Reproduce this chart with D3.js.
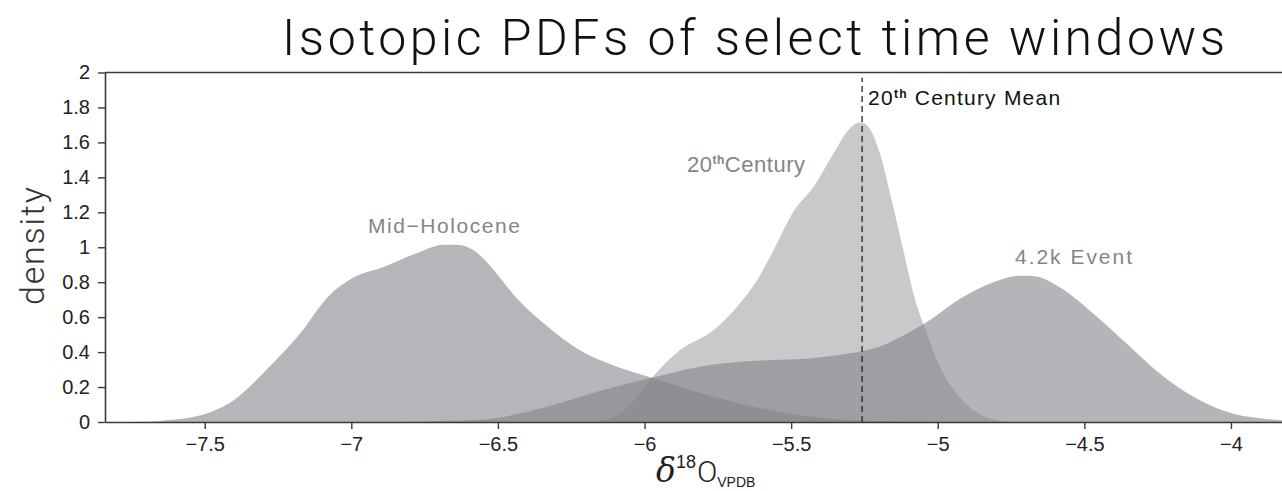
<!DOCTYPE html>
<html>
<head>
<meta charset="utf-8">
<script src="https://cdn.jsdelivr.net/npm/d3@7"></script>
<style>
	body { margin: 0; background: #fff; }
	text { font-family: "Liberation Sans", Arial, sans-serif; }
</style>
</head>
<body>
<div id="chart"></div>
<script>
// density curves: [d18O, density]
const midHolocene = [
	[-7.84, 0], [-7.69, 0.002], [-7.63, 0.01], [-7.51, 0.04], [-7.40, 0.126],
	[-7.29, 0.297], [-7.17, 0.516], [-7.08, 0.716], [-7.0, 0.82], [-6.89, 0.887],
	[-6.78, 0.964], [-6.685, 1.015], [-6.64, 1.015], [-6.58, 0.98], [-6.53, 0.9],
	[-6.50, 0.84], [-6.45, 0.735], [-6.33, 0.545], [-6.22, 0.41], [-6.11, 0.326],
	[-5.975, 0.253], [-5.765, 0.145], [-5.54, 0.059], [-5.25, 0.007], [-4.96, 0]
];
const twentiethCentury = [
	[-6.17, 0], [-6.08, 0.05], [-6.026, 0.145], [-5.975, 0.253], [-5.88, 0.41],
	[-5.765, 0.525], [-5.685, 0.658], [-5.617, 0.81], [-5.56, 0.983], [-5.49, 1.21],
	[-5.424, 1.345], [-5.356, 1.535], [-5.30, 1.68], [-5.264, 1.715], [-5.242, 1.70],
	[-5.196, 1.53], [-5.157, 1.267], [-5.117, 0.98], [-5.083, 0.735], [-5.037, 0.505],
	[-4.992, 0.314], [-4.935, 0.162], [-4.878, 0.067], [-4.81, 0.015], [-4.75, 0]
];
const event42k = [
	[-6.83, 0], [-6.72, 0.005], [-6.56, 0.013], [-6.333, 0.087], [-6.162, 0.173],
	[-5.975, 0.253], [-5.82, 0.314], [-5.65, 0.347], [-5.424, 0.366], [-5.31, 0.39],
	[-5.2, 0.43], [-5.151, 0.467], [-5.037, 0.572], [-4.924, 0.705], [-4.81, 0.80],
	[-4.72, 0.837], [-4.674, 0.835], [-4.583, 0.77], [-4.469, 0.62], [-4.355, 0.448],
	[-4.242, 0.276], [-4.128, 0.145], [-4.015, 0.059], [-3.90, 0.021], [-3.826, 0.01]
];
const twentiethMean = -5.258;
const xTicks = [-7.5, -7, -6.5, -6, -5.5, -5, -4.5, -4];
const yTicks = [0, 0.2, 0.4, 0.6, 0.8, 1, 1.2, 1.4, 1.6, 1.8, 2];

const width = 1282;
const height = 491;

const svg = d3.select("#chart")
	.append("svg")
	.attr("width", width)
	.attr("height", height);

const x = d3.scaleLinear().domain([-7.84, -3.826]).range([105, 1282]);
const y = d3.scaleLinear().domain([0, 2]).range([422, 72.5]);

const area = d3.area()
	.x((d) => x(d[0]))
	.y0(y(0))
	.y1((d) => y(d[1]))
	.curve(d3.curveMonotoneX);

// semi-transparent grey fills so the overlaps get darker
const series = [
	{ data: midHolocene, alpha: 0.59 },
	{ data: event42k, alpha: 0.6 },
	{ data: twentiethCentury, alpha: 0.44 },
];

svg.append("g")
	.selectAll("path")
	.data(series)
	.join("path")
	.attr("d", (d) => area(d.data))
	.attr("fill", "rgb(130,131,136)")
	.attr("fill-opacity", (d) => d.alpha);

// axes
const fmt = d3.format("~g");

const xAxis = svg.append("g")
	.attr("transform", `translate(0,${y(0)})`)
	.call(d3.axisBottom(x).tickValues(xTicks).tickFormat(fmt).tickSize(7).tickSizeOuter(0).tickPadding(8));

const yAxis = svg.append("g")
	.attr("transform", `translate(${x.range()[0]},0)`)
	.call(d3.axisLeft(y).tickValues(yTicks).tickFormat(fmt).tickSize(7).tickSizeOuter(0).tickPadding(8));

[xAxis, yAxis].forEach((a) => {
	a.select(".domain").attr("stroke", "#3a3a3a").attr("stroke-width", 1.6);
	a.selectAll(".tick line").attr("stroke", "#3a3a3a").attr("stroke-width", 1.4);
	a.selectAll(".tick text")
		.attr("font-size", 20)
		.attr("fill", "#222")
		.style("font-family", "Liberation Sans, Arial, sans-serif");
});

// top of the frame
svg.append("line")
	.attr("x1", x.range()[0]).attr("x2", width)
	.attr("y1", y(2)).attr("y2", y(2))
	.attr("stroke", "#3a3a3a")
	.attr("stroke-width", 1.6);

// 20th century mean
svg.append("line")
	.attr("x1", x(twentiethMean)).attr("x2", x(twentiethMean))
	.attr("y1", y(0)).attr("y2", y(1.97))
	.attr("stroke", "#222")
	.attr("stroke-width", 1.3)
	.attr("stroke-dasharray", "6,4");

const mean = svg.append("text")
	.attr("x", x(twentiethMean) + 6)
	.attr("y", 105)
	.attr("font-size", 21)
	.attr("fill", "#111")
	.attr("textLength", 192)
	.attr("lengthAdjust", "spacing");
mean.append("tspan").text("20");
mean.append("tspan").attr("dy", -7).attr("font-size", 12).attr("font-weight", "bold").text("th");
mean.append("tspan").attr("dy", 7).text(" Century  Mean");

// series labels
const labelColour = "#858585";

svg.append("text")
	.attr("x", 368).attr("y", 233)
	.attr("font-size", 21)
	.attr("fill", labelColour)
	.attr("textLength", 152)
	.attr("lengthAdjust", "spacing")
	.text("Mid\u2212Holocene");

const c20 = svg.append("text")
	.attr("x", 687).attr("y", 172)
	.attr("font-size", 22)
	.attr("fill", labelColour)
	.attr("textLength", 118)
	.attr("lengthAdjust", "spacing");
c20.append("tspan").text("20");
c20.append("tspan").attr("dy", -8).attr("font-size", 12).attr("font-weight", "bold").text("th");
c20.append("tspan").attr("dy", 8).text("Century");

svg.append("text")
	.attr("x", 1015).attr("y", 264)
	.attr("font-size", 21)
	.attr("fill", labelColour)
	.attr("textLength", 117)
	.attr("lengthAdjust", "spacing")
	.text("4.2k  Event");

// title
svg.append("text")
	.attr("x", 282).attr("y", 55)
	.attr("font-size", 50)
	.attr("font-weight", 300)
	.attr("fill", "#111")
	.attr("textLength", 943)
	.attr("lengthAdjust", "spacing")
	.style("font-family", "Roboto, 'Liberation Sans', sans-serif")
	.text("Isotopic PDFs of select time windows");

// y label
svg.append("text")
	.attr("transform", "translate(44,246) rotate(-90)")
	.attr("text-anchor", "middle")
	.attr("font-size", 34)
	.attr("font-weight", 300)
	.attr("fill", "#333")
	.attr("textLength", 118)
	.attr("lengthAdjust", "spacing")
	.style("font-family", "Roboto, 'Liberation Sans', sans-serif")
	.text("density");

// x label: delta 18 O VPDB
const xl = svg.append("text")
	.attr("x", 656).attr("y", 482)
	.attr("fill", "#222");
xl.append("tspan")
	.attr("font-size", 33)
	.attr("font-style", "italic")
	.style("font-family", "'DejaVu Serif', serif")
	.text("\u03b4");
xl.append("tspan").attr("dy", -14).attr("font-size", 18).text("18");
xl.append("tspan").attr("dy", 14).attr("dx", 1).attr("font-size", 30).attr("font-weight", 300)
	.style("font-family", "Roboto, 'Liberation Sans', sans-serif").text("O");
xl.append("tspan").attr("dy", 5).attr("font-size", 14).text("VPDB");
</script>
</body>
</html>
